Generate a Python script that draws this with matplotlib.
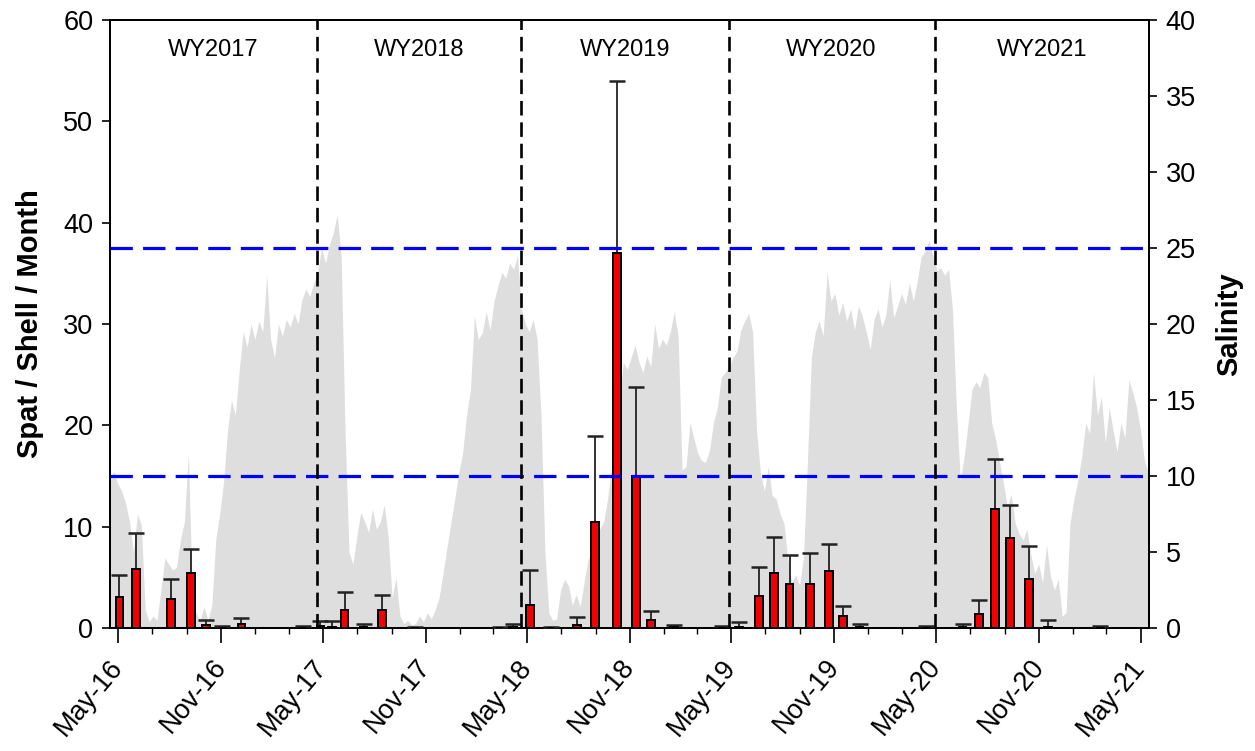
import numpy as np
import matplotlib
matplotlib.use('Agg')
import matplotlib.pyplot as plt
import matplotlib.dates as mdates
from datetime import datetime, timedelta

plt.rcParams['font.family'] = ['Liberation Sans', 'DejaVu Sans']

# monthly spat sets (left axis): sample date, mean, top of error bar
spat_dates = ['2016-05-03', '2016-06-01', '2016-08-03', '2016-09-08', '2016-10-05',
              '2016-11-03', '2016-12-07', '2017-03-26', '2017-04-27', '2017-05-18',
              '2017-06-09', '2017-07-13', '2017-08-15', '2017-10-13', '2018-03-13',
              '2018-04-06', '2018-05-07', '2018-06-12', '2018-07-30', '2018-08-31',
              '2018-10-09', '2018-11-11', '2018-12-09', '2019-01-18', '2019-04-15',
              '2019-05-14', '2019-06-20', '2019-07-16', '2019-08-13', '2019-09-19',
              '2019-10-22', '2019-11-17', '2019-12-16', '2020-04-13', '2020-06-17',
              '2020-07-16', '2020-08-14', '2020-09-10', '2020-10-13', '2020-11-16',
              '2021-02-17']
spat_mean = [3.1, 5.8, 2.9, 5.45, 0.27,
             0.02, 0.4, 0.02, 0.15, 0.1,
             1.78, 0.05, 1.78, 0.0, 0.0,
             0.05, 2.3, 0.0, 0.3, 10.45,
             37.05, 15.0, 0.8, 0.05, 0.0,
             0.05, 3.2, 5.4, 4.3, 4.3,
             5.65, 1.18, 0.05, 0.0, 0.05,
             1.35, 11.7, 8.9, 4.8, 0.05,
             0.0]
spat_upper = [5.2, 9.35, 4.8, 7.8, 0.8,
              0.2, 0.95, 0.2, 0.72, 0.72,
              3.6, 0.4, 3.3, 0.1, 0.1,
              0.4, 5.7, 0.1, 1.05, 18.95,
              54.0, 23.75, 1.7, 0.25, 0.2,
              0.6, 6.05, 8.95, 7.2, 7.4,
              8.3, 2.17, 0.4, 0.2, 0.42,
              2.73, 16.65, 12.1, 8.13, 0.76,
              0.2]

salinity = [9.8, 10.3, 9.5, 9.0, 8.2, 7.0, 5.0, 7.5, 6.8, 1.2,
            0.4, 0.8, 0.5, 2.5, 4.6, 4.2, 3.8, 4.0, 5.8, 7.0,
            11.5, 2.5, 1.0, 0.5, 1.4, 0.5, 1.5, 5.8, 7.5, 9.6,
            13.0, 15.0, 14.0, 17.0, 19.5, 18.5, 20.0, 19.0, 20.2, 19.5,
            23.2, 19.0, 17.8, 20.0, 19.2, 20.3, 19.8, 20.7, 20.0, 21.6,
            22.3, 21.8, 22.7, 23.4, 25.0, 24.0, 25.2, 26.0, 27.2, 24.5,
            13.0, 5.0, 4.2, 6.0, 7.6, 7.0, 6.3, 7.8, 6.5, 7.0,
            8.1, 6.0, 2.0, 3.3, 0.8, 0.3, 0.5, 0.2, 0.3, 0.8,
            0.4, 1.0, 0.6, 1.2, 2.0, 3.6, 5.3, 6.9, 8.5, 10.2,
            11.5, 14.0, 15.7, 20.5, 19.0, 19.4, 20.8, 19.6, 21.5, 22.5,
            23.4, 23.0, 24.0, 23.6, 24.5, 21.0, 20.0, 19.5, 20.3, 19.0,
            14.0, 5.0, 1.0, 0.5, 0.6, 2.5, 3.2, 2.8, 1.5, 2.2,
            1.4, 3.0, 4.5, 5.0, 5.8, 6.5, 7.0, 8.5, 10.6, 13.5,
            15.0, 17.5, 17.0, 17.8, 18.6, 17.5, 16.8, 17.9, 17.2, 20.0,
            18.4, 19.0, 18.6, 19.5, 20.8, 19.2, 10.4, 10.6, 13.5, 12.5,
            11.5, 11.0, 10.9, 11.7, 13.5, 14.5, 16.5, 16.8, 17.2, 17.8,
            18.2, 19.6, 20.2, 20.7, 19.5, 13.0, 10.2, 9.0, 10.6, 8.7,
            8.5, 7.5, 6.9, 4.5, 3.0, 3.5, 2.8, 4.7, 11.0, 17.8,
            19.5, 20.2, 19.2, 23.4, 21.5, 22.0, 20.6, 21.4, 20.2, 21.0,
            19.6, 21.2, 20.5, 19.5, 18.3, 20.3, 21.0, 19.8, 20.6, 22.9,
            20.4, 21.2, 22.0, 21.3, 22.7, 21.5, 22.8, 24.4, 24.8, 25.5,
            24.5, 23.5, 23.7, 23.2, 23.6, 21.0, 14.5, 9.7, 11.3, 13.5,
            15.7, 16.2, 15.8, 16.8, 16.5, 13.5, 12.4, 11.0, 9.5, 8.0,
            8.8, 6.9, 6.2, 5.8, 6.5, 4.8, 3.6, 4.2, 3.0, 5.5,
            3.4, 2.5, 3.2, 0.8, 1.0, 6.9, 8.5, 9.7, 11.3, 13.5,
            12.8, 16.8, 14.0, 15.2, 12.2, 14.5, 13.0, 11.6, 13.5, 12.5,
            16.3, 15.5, 14.5, 13.0, 11.0, 10.2]

salinity_limits = [10, 25]

wy_bounds = ['2016-04-16', '2017-04-21', '2018-04-20', '2019-04-26', '2020-04-28', '2021-05-16']
wy_labels = ['WY2017', 'WY2018', 'WY2019', 'WY2020', 'WY2021']

bar_dates = [datetime.strptime(d, '%Y-%m-%d') for d in spat_dates]
sal_start = datetime(2016, 4, 16)
sal_dates = [sal_start + timedelta(days=7 * i) for i in range(len(salinity))]
bounds = [datetime.strptime(d, '%Y-%m-%d') for d in wy_bounds]

fig = plt.figure(figsize=(12.55, 7.51), dpi=100)
ax = fig.add_axes([0.0876, 0.1638, 0.8279, 0.8096])
ax2 = ax.twinx()

# salinity in the background
ax2.fill_between(sal_dates, salinity, 0, color='#dedede', lw=0)
ax2.set_ylim(0, 40)
ax2.set_yticks(np.arange(0, 41, 5))
ax2.set_ylabel('Salinity', fontsize=21, fontweight='bold', labelpad=14)

# spat bars on top
ax.set_zorder(ax2.get_zorder() + 1)
ax.patch.set_visible(False)

ax.vlines(bar_dates, spat_mean, spat_upper, color='#222222', lw=1.3, zorder=3)
ax.plot(bar_dates, spat_upper, ls='none', marker='_', ms=11, mew=1.8, color='#222222', zorder=3)
ax.bar(bar_dates, spat_mean, width=14, color='#f00000', edgecolor='black', linewidth=1.4, zorder=4)

for s in salinity_limits:
    ax.axhline(s * 60 / 40, color='#0000ff', lw=2.3, ls=(0, (7.0, 3.2)), zorder=5)

for b in bounds[1:-1]:
    ax.axvline(b, color='black', lw=1.9, ls=(0, (5.5, 2.6)), zorder=5)

for i in range(len(wy_labels)):
    mid = bounds[i] + (bounds[i + 1] - bounds[i]) / 2
    ax.text(mid, 57.0, wy_labels[i], ha='center', va='center', fontsize=17)

ax.set_xlim(bounds[0], bounds[-1])
ax.set_ylim(0, 60)
ax.set_yticks(np.arange(0, 61, 10))
ax.set_ylabel('Spat / Shell / Month', fontsize=21, fontweight='bold', labelpad=14)

ax.xaxis.set_major_locator(mdates.MonthLocator(bymonth=[5, 11]))
ax.xaxis.set_minor_locator(mdates.MonthLocator(bymonth=[1, 3, 7, 9]))
ax.xaxis.set_major_formatter(mdates.DateFormatter('%b-%y'))
for lab in ax.get_xticklabels():
    lab.set_rotation(50)
    lab.set_ha('right')
    lab.set_va('center')
    lab.set_rotation_mode('anchor')

ax.tick_params(axis='x', which='major', length=11, width=1.2, labelsize=19.5, pad=14)
ax.tick_params(axis='x', which='minor', length=4, width=1.0)
ax.tick_params(axis='y', length=6, width=1.2, labelsize=19.5, pad=6)
ax2.tick_params(axis='y', length=6, width=1.2, labelsize=19.5, pad=6)

for a in (ax, ax2):
    for sp in a.spines.values():
        sp.set_linewidth(1.4)

fig.savefig('out.png', dpi=100)
